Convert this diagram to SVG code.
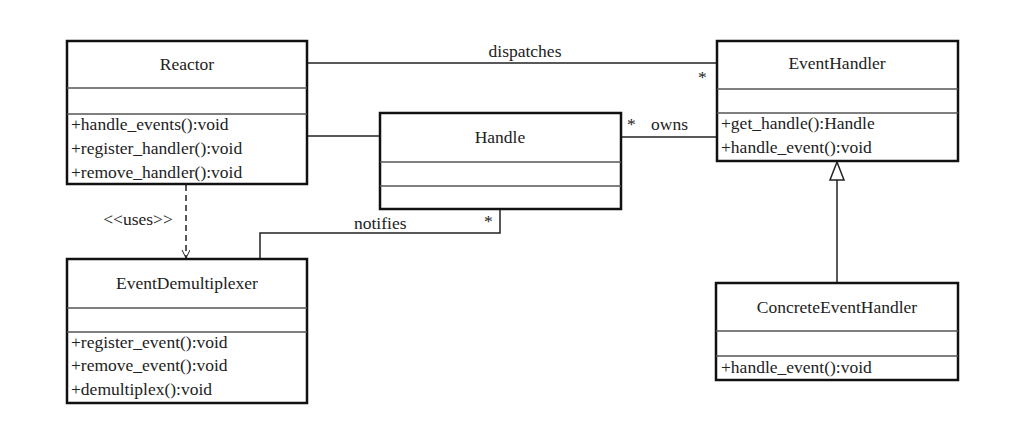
<svg xmlns="http://www.w3.org/2000/svg" width="1036" height="435" viewBox="0 0 1036 435" font-family="'Liberation Serif', 'DejaVu Serif', serif" font-size="17.5">
  <style>
    .box { fill: #ffffff; stroke: #111111; stroke-width: 2.5; }
    .div { stroke: #555555; stroke-width: 1.5; fill: none; }
    .ln { stroke: #222222; stroke-width: 1.5; fill: none; }
    .dash { stroke: #222222; stroke-width: 1.5; fill: none; stroke-dasharray: 6 4; }
    text { font-family: 'Liberation Serif', 'DejaVu Serif', serif; font-size: 17.5px; fill: #222222; }
    .c { text-anchor: middle; }
  </style>
  <defs>
    <marker id="open" markerWidth="10" markerHeight="10" refX="8" refY="4" orient="auto" markerUnits="userSpaceOnUse">
      <path d="M0,0 L8,4 L0,8" fill="none" stroke="#222222" stroke-width="1"/>
    </marker>
  </defs>

  <g id="connectors">
    <line class="ln" x1="307" y1="63" x2="717" y2="63"/>
    <text class="c" x="525" y="57">dispatches</text>
    <text x="698" y="83">*</text>

    <line class="ln" x1="307" y1="136" x2="380" y2="136"/>

    <line class="ln" x1="621" y1="137" x2="717" y2="137"/>
    <text x="627" y="130">*</text>
    <text x="651" y="130">owns</text>

    <polyline class="ln" points="500,209 500,233 260,233 260,259"/>
    <text x="354" y="229">notifies</text>
    <text x="484" y="227">*</text>

    <line class="dash" x1="186" y1="185" x2="186" y2="258" marker-end="url(#open)"/>
    <text class="c" x="138" y="225">&lt;&lt;uses&gt;&gt;</text>

    <line class="ln" x1="837" y1="180" x2="837" y2="283"/>
    <polygon points="837,162 830,180 844,180" fill="#ffffff" stroke="#222222" stroke-width="1.5"/>
  </g>

  <g id="reactor">
    <rect class="box" x="67" y="41" width="240" height="143"/>
    <line class="div" x1="67" y1="88" x2="307" y2="88"/>
    <line class="div" x1="67" y1="114" x2="307" y2="114"/>
    <text class="c" x="187" y="70">Reactor</text>
    <text x="71" y="130">+handle_events():void</text>
    <text x="71" y="154">+register_handler():void</text>
    <text x="71" y="178">+remove_handler():void</text>
  </g>

  <g id="handle">
    <rect class="box" x="380" y="113" width="241" height="96"/>
    <line class="div" x1="380" y1="162" x2="621" y2="162"/>
    <line class="div" x1="380" y1="186" x2="621" y2="186"/>
    <text class="c" x="500" y="143">Handle</text>
  </g>

  <g id="eventhandler">
    <rect class="box" x="717" y="41" width="241" height="120"/>
    <line class="div" x1="717" y1="89" x2="958" y2="89"/>
    <line class="div" x1="717" y1="113" x2="958" y2="113"/>
    <text class="c" x="837" y="69">EventHandler</text>
    <text x="721" y="129">+get_handle():Handle</text>
    <text x="721" y="153">+handle_event():void</text>
  </g>

  <g id="eventdemultiplexer">
    <rect class="box" x="67" y="259" width="240" height="144"/>
    <line class="div" x1="67" y1="308" x2="307" y2="308"/>
    <line class="div" x1="67" y1="332" x2="307" y2="332"/>
    <text class="c" x="187" y="289">EventDemultiplexer</text>
    <text x="71" y="348">+register_event():void</text>
    <text x="71" y="371">+remove_event():void</text>
    <text x="71" y="395">+demultiplex():void</text>
  </g>

  <g id="concreteeventhandler">
    <rect class="box" x="716" y="283" width="242" height="97"/>
    <line class="div" x1="716" y1="331" x2="958" y2="331"/>
    <line class="div" x1="716" y1="356" x2="958" y2="356"/>
    <text class="c" x="837" y="313">ConcreteEventHandler</text>
    <text x="721" y="373">+handle_event():void</text>
  </g>
</svg>
